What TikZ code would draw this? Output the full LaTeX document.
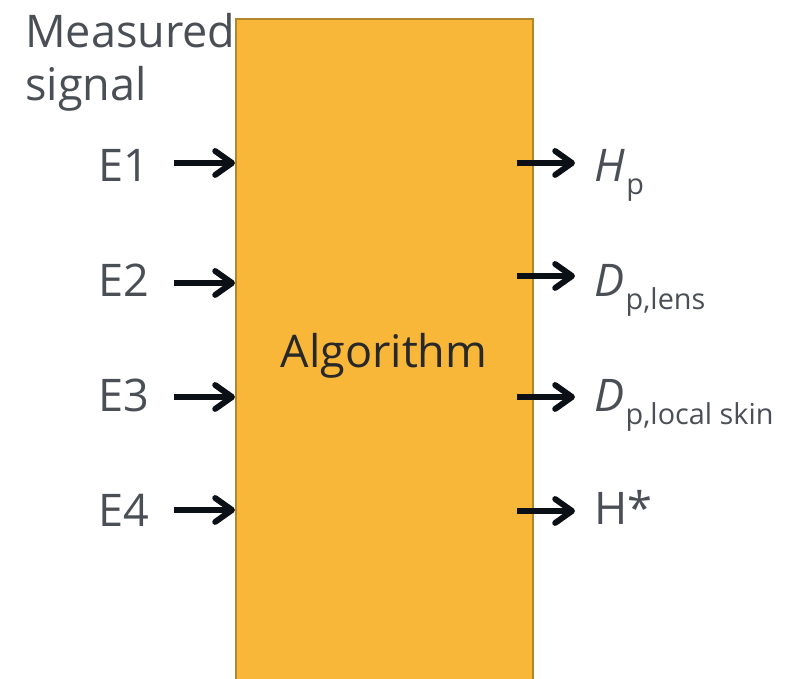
\documentclass[tikz,border=0pt]{standalone}
\usepackage{fontspec}
\setmainfont{Open Sans}
\usetikzlibrary{arrows.meta,calc}
\definecolor{boxfill}{HTML}{F9B73A}
\definecolor{boxline}{HTML}{B3862B}
\definecolor{txtgray}{HTML}{4A4F56}
\definecolor{algtxt}{HTML}{282828}
\definecolor{arrowblk}{HTML}{0B1016}
\newcommand{\lowsub}[1]{\kern1pt\raisebox{-9pt}{\fontsize{20.5}{25}\selectfont #1}}

\begin{document}
\begin{tikzpicture}[>={Straight Barb[length=12pt,width=17pt,round]},
    sig/.style={->,line width=4.2pt,draw=arrowblk},
    lbl/.style={inner sep=0pt,text=txtgray,font=\fontsize{32}{38}\selectfont},
    algobox/.style={draw=boxline,line width=1.6pt,fill=boxfill,minimum width=7.425cm,minimum height=17cm,inner sep=0pt}]
    \useasboundingbox (0,0) rectangle (19.675,16.975);
    \clip (0,0) rectangle (19.675,16.975);
    % the block
    \node[algobox,anchor=north west] (algo) at (5.875,16.525) {};
    \node[inner sep=0pt,text=algtxt,font=\fontsize{32}{38}\selectfont,anchor=base] (alg) at (9.6,7.775) {Algorithm};
    % inputs
    \node[lbl,anchor=north west,align=left] (meas) at (0.625,16.65) {Measured\\signal};
    \node[lbl,anchor=base east] (e1) at (3.75,12.425) {E1};
    \node[lbl,anchor=base east] (e2) at (3.75,9.55) {E2};
    \node[lbl,anchor=base east] (e3) at (3.75,6.675) {E3};
    \node[lbl,anchor=base east] (e4) at (3.75,3.8) {E4};
    \coordinate (in1) at (4.35,12.9);
    \coordinate (in2) at (4.35,9.9);
    \coordinate (in3) at (4.35,7.05);
    \coordinate (in4) at (4.35,4.225);
    \draw[sig] (in1) -- (in1 -| algo.west);
    \draw[sig] (in2) -- (in2 -| algo.west);
    \draw[sig] (in3) -- (in3 -| algo.west);
    \draw[sig] (in4) -- (in4 -| algo.west);
    % outputs
    \coordinate (out1) at (14.375,12.9);
    \coordinate (out2) at (14.375,10.075);
    \coordinate (out3) at (14.375,7.05);
    \coordinate (out4) at (14.375,4.2);
    \draw[sig] ($(algo.east |- out1)+(-0.425,0)$) -- (out1);
    \draw[sig] ($(algo.east |- out2)+(-0.425,0)$) -- (out2);
    \draw[sig] ($(algo.east |- out3)+(-0.425,0)$) -- (out3);
    \draw[sig] ($(algo.east |- out4)+(-0.425,0)$) -- (out4);
    \node[lbl,anchor=base west] (hp) at (14.85,12.425) {\textit{H}\lowsub{p}};
    \node[lbl,anchor=base west] (dlens) at (14.85,9.55) {\textit{D}\lowsub{p,lens}};
    \node[lbl,anchor=base west] (dskin) at (14.85,6.675) {\textit{D}\lowsub{p,local skin}};
    \node[lbl,anchor=base west] (hstar) at (14.85,3.85) {H*};
\end{tikzpicture}
\end{document}
